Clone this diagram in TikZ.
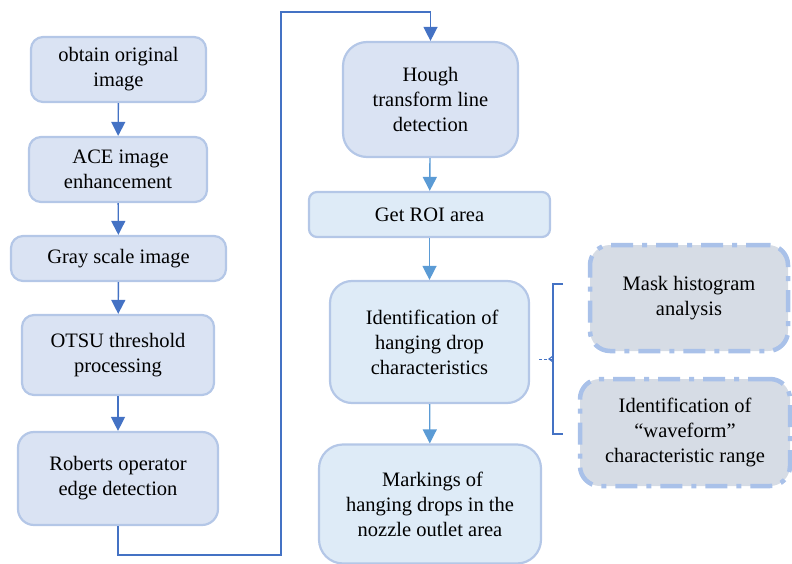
\documentclass[tikz,border=0pt]{standalone}
\usepackage{fontspec}
\setmainfont{Liberation Serif}
\usetikzlibrary{arrows.meta}
\definecolor{fillA}{HTML}{DAE3F3}
\definecolor{fillB}{HTML}{DEEBF7}
\definecolor{fillC}{HTML}{D6DCE5}
\definecolor{edgeA}{HTML}{B4C7E7}
\definecolor{edgeC}{HTML}{A9C1E9}
\definecolor{arrA}{HTML}{4472C4}
\definecolor{arrB}{HTML}{5B9BD5}
\tikzset{
  box/.style={draw=edgeA, line width=2.2pt, fill=fillA, align=center, inner sep=0pt,
    font=\fontsize{20.5}{25}\selectfont, rounded corners=12pt},
  boxB/.style={box, fill=fillB},
  dbox/.style={box, fill=fillC, draw=edgeC, line width=4.5pt,
    dash pattern=on 22pt off 9pt on 5pt off 9pt, rounded corners=20pt},
  arrowA/.style={draw=arrA, line width=1.4pt, -{Triangle[length=14pt,width=14pt]}},
  arrowB/.style={draw=arrB, line width=1.4pt, -{Triangle[length=14pt,width=14pt]}},
}
\begin{document}
\begin{tikzpicture}[x=1pt,y=-1pt]
\useasboundingbox (0,0) rectangle (792,564);
% left column
\node[box, minimum width=175pt, minimum height=65pt] (b1) at (118.5,69.5) {obtain original\\image};
\node[box, minimum width=178pt, minimum height=65pt] (b2) at (118,169.5) {\ ACE image\\enhancement};
\node[box, minimum width=215pt, minimum height=45pt] (b3) at (118.5,258.5) {Gray scale image};
\node[box, minimum width=192pt, minimum height=80pt] (b4) at (118,355) {OTSU threshold\\processing};
\node[box, minimum width=200pt, minimum height=93pt, rounded corners=16pt] (b5) at (118,478.5) {Roberts operator\\edge detection};
% right column
\node[box, minimum width=175pt, minimum height=115pt, rounded corners=24pt] (h) at (430.5,99.5) {Hough\\transform line\\detection};
\node[boxB, minimum width=241pt, minimum height=45pt, rounded corners=8pt] (roi) at (429.5,214.5) {Get ROI area};
\node[boxB, minimum width=199pt, minimum height=122pt, rounded corners=22pt] (id) at (429.5,342) {\ Identification of\\hanging drop\\characteristics};
\node[boxB, minimum width=222pt, minimum height=119pt, rounded corners=24pt] (mk) at (430,504) {\ Markings of\\hanging drops in the\\nozzle outlet area};
% dashed boxes
\node[dbox, minimum width=198pt, minimum height=106pt] (mh) at (689,298) {Mask histogram\\analysis};
\node[dbox, minimum width=210pt, minimum height=107pt] (wf) at (685,432.5) {Identification of\\“waveform”\\characteristic range};
% arrows
\draw[arrowA] (b1) -- (b2);
\draw[arrowA] (b2) -- (b3);
\draw[arrowA] (b3) -- (b4);
\draw[arrowA] (b4) -- (b5);
\coordinate (c1) at (118,555);
\coordinate (c2) at (281,555);
\coordinate (c3) at (281,12);
\coordinate (c4) at (430.5,12);
\draw[arrowA] (b5.south) -- (c1) -- (c2) -- (c3) -- (c4) -- (h.north);
\draw[arrowB] (h) -- (roi);
\draw[arrowB] (roi) -- (id);
\draw[arrowB] (id) -- (mk);
% bracket
\coordinate (bt) at (563,284);
\coordinate (bb) at (563,434);
\coordinate (bm) at (553,359);
\coordinate (ds) at (539,359);
\draw[arrA, line width=1.2pt] (bt) -- (553,284) -- (553,434) -- (bb);
\draw[arrA, line width=1.2pt] (553,356) -- (549,359) -- (553,362);
\draw[arrA, line width=1pt, dash pattern=on 3pt off 2pt] (ds) -- (bm);
\end{tikzpicture}
\end{document}
